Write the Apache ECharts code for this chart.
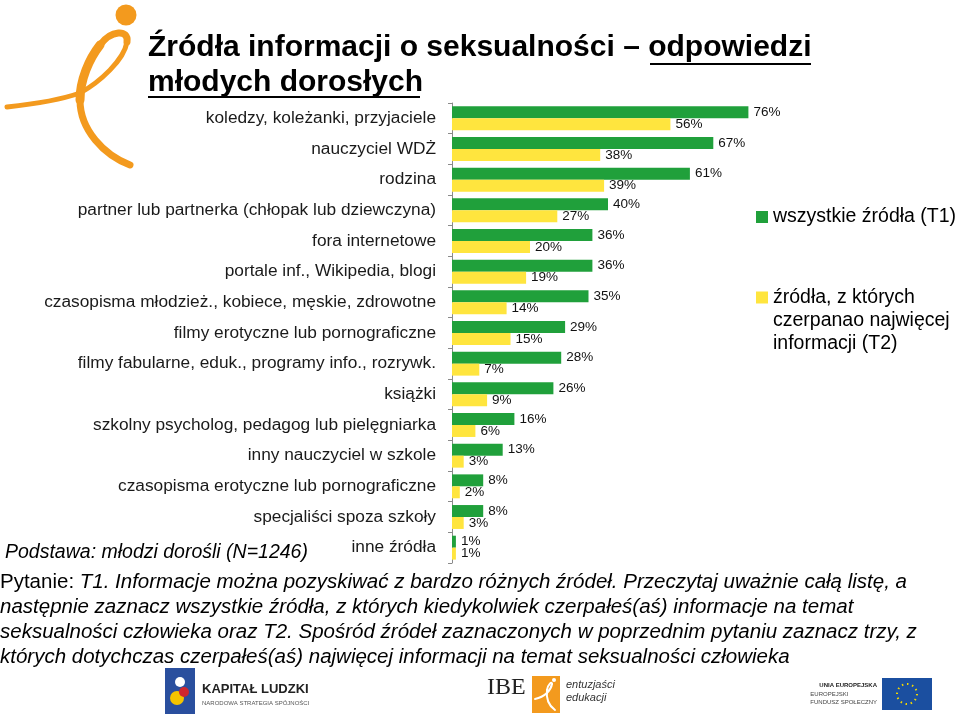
<!DOCTYPE html>
<html><head><meta charset="utf-8">
<script src="https://cdn.jsdelivr.net/npm/echarts@6/dist/echarts.min.js"></script>
<style>html,body{margin:0;padding:0;background:#fff}#c{width:960px;height:721px}</style>
</head><body><div id="c"></div>
<script>
const categories = [
  'koledzy, koleżanki, przyjaciele',
  'nauczyciel WDŻ',
  'rodzina',
  'partner lub partnerka (chłopak lub dziewczyna)',
  'fora internetowe',
  'portale inf., Wikipedia, blogi',
  'czasopisma młodzież., kobiece, męskie, zdrowotne',
  'filmy erotyczne lub pornograficzne',
  'filmy fabularne, eduk., programy info., rozrywk.',
  'książki',
  'szkolny psycholog, pedagog lub pielęgniarka',
  'inny nauczyciel w szkole',
  'czasopisma erotyczne lub pornograficzne',
  'specjaliści spoza szkoły',
  'inne źródła'
];
const seriesT1Name = 'wszystkie źródła (T1)';
const seriesT2Name = 'źródła, z których\nczerpanao najwięcej\ninformacji (T2)';
const valuesT1 = [76, 67, 61, 40, 36, 36, 35, 29, 28, 26, 16, 13, 8, 8, 1];
const valuesT2 = [56, 38, 39, 27, 20, 19, 14, 15, 7, 9, 6, 3, 2, 3, 1];

const GREEN = '#20A03B';
const YELLOW = '#FFE53E';
const ORANGE = '#F39A1E';
const FONT = 'Liberation Sans, Arial, sans-serif';

const chart = echarts.init(document.getElementById('c'), null, {renderer: 'canvas'});

const labelStyle = {show: true, position: 'right', distance: 5, formatter: '{c}%', color: '#111', fontSize: 13.5, fontFamily: FONT};

function bez(x1, y1, c1x, c1y, c2x, c2y, x2, y2, color, w) {
  return {type: 'bezierCurve', shape: {x1: x1, y1: y1, cpx1: c1x, cpy1: c1y, cpx2: c2x, cpy2: c2y, x2: x2, y2: y2},
    style: {fill: null, stroke: color, lineWidth: w, lineCap: 'round'}};
}

const option = {
  backgroundColor: '#fff',
  animation: false,
  title: [{
    text: 'Źródła informacji o seksualności – odpowiedzi\nmłodych dorosłych',
    left: 148, top: 30, padding: 0,
    textStyle: {fontFamily: FONT, fontSize: 30, fontWeight: 'bold', color: '#000', lineHeight: 35}
  }, {
    text: '{n|Pytanie: }{i|T1. Informacje można pozyskiwać z bardzo różnych źródeł. Przeczytaj uważnie całą listę, a}\n' +
          '{i|następnie zaznacz wszystkie źródła, z których kiedykolwiek czerpałeś(aś) informacje na temat}\n' +
          '{i|seksualności człowieka oraz T2. Spośród źródeł zaznaczonych w poprzednim pytaniu zaznacz trzy, z}\n' +
          '{i|których dotychczas czerpałeś(aś) najwięcej informacji na temat seksualności człowieka}',
    left: 0, top: 570, padding: 0,
    textStyle: {
      fontFamily: FONT, fontSize: 20.5, fontWeight: 'normal', color: '#000', lineHeight: 25,
      rich: {
        n: {fontFamily: FONT, fontSize: 20.5, fontWeight: 'normal', color: '#000', lineHeight: 25},
        i: {fontFamily: FONT, fontSize: 20.5, fontWeight: 'normal', fontStyle: 'italic', color: '#000', lineHeight: 25}
      }
    }
  }, {
    text: 'Podstawa: młodzi dorośli (N=1246)',
    left: 5, top: 543, padding: 0,
    textStyle: {fontFamily: FONT, fontSize: 19.5, fontStyle: 'italic', fontWeight: 'normal', color: '#000'}
  }],
  legend: [{
    data: [seriesT1Name],
    orient: 'vertical', left: 756, top: 207, padding: 0,
    itemWidth: 12, itemHeight: 12,
    icon: 'rect',
    textStyle: {fontFamily: FONT, fontSize: 19.5, color: '#000'}
  }, {
    data: [seriesT2Name],
    orient: 'vertical', left: 756, top: 240, padding: 0,
    itemWidth: 12, itemHeight: 12,
    icon: 'rect',
    formatter: function (name) { return '\n\n' + name; },
    textStyle: {fontFamily: FONT, fontSize: 19.5, color: '#000', lineHeight: 23}
  }],
  grid: {left: 452, top: 103, width: 390, height: 460, containLabel: false},
  xAxis: {type: 'value', min: 0, max: 100, show: false},
  yAxis: {
    type: 'category', data: categories, inverse: true,
    axisLine: {show: true, lineStyle: {color: '#8a8a8a', width: 1}},
    axisTick: {show: true, inside: false, length: 4, lineStyle: {color: '#8a8a8a'}},
    axisLabel: {fontFamily: FONT, fontSize: 17.3, color: '#1a1a1a', margin: 16}
  },
  series: [{
    name: seriesT1Name, type: 'bar', data: valuesT1,
    itemStyle: {color: GREEN}, barGap: '0%', barCategoryGap: '22%',
    label: labelStyle
  }, {
    name: seriesT2Name, type: 'bar', data: valuesT2,
    itemStyle: {color: YELLOW}, barGap: '0%', barCategoryGap: '22%',
    label: labelStyle
  }],
  graphic: [
    {type: 'line', shape: {x1: 650, y1: 64, x2: 811, y2: 64}, style: {stroke: '#000', lineWidth: 2}},
    {type: 'line', shape: {x1: 148, y1: 97, x2: 420, y2: 97}, style: {stroke: '#000', lineWidth: 2}},
    {type: 'circle', shape: {cx: 126, cy: 15, r: 10.5}, style: {fill: ORANGE}},
    bez(7, 107, 35, 104, 60, 100, 80, 93, ORANGE, 5),
    bez(80, 93, 100, 82, 124, 60, 127, 42, ORANGE, 5),
    bez(127, 42, 129, 29, 111, 30, 100, 45, ORANGE, 7),
    bez(100, 45, 89, 59, 80, 80, 80, 100, ORANGE, 9),
    bez(80, 100, 80, 130, 104, 155, 130, 165, ORANGE, 7),
    {type: 'rect', shape: {x: 165, y: 668, width: 30, height: 46}, style: {fill: '#2a4f9e'}},
    {type: 'circle', shape: {cx: 177, cy: 698, r: 7}, style: {fill: '#f5c400'}},
    {type: 'circle', shape: {cx: 184, cy: 692, r: 5}, style: {fill: '#d0262e'}},
    {type: 'circle', shape: {cx: 180, cy: 682, r: 5}, style: {fill: '#fff'}},
    {type: 'text', left: 202, top: 683, style: {text: 'KAPITAŁ LUDZKI', font: 'bold 13px ' + FONT, fill: '#222'}},
    {type: 'text', left: 202, top: 700, style: {text: 'NARODOWA STRATEGIA SPÓJNOŚCI', font: '6px ' + FONT, fill: '#555'}},
    {type: 'text', left: 487, top: 676, style: {text: 'IBE', font: '24px Liberation Serif, serif', fill: '#222'}},
    {type: 'rect', shape: {x: 532, y: 676, width: 28, height: 37}, style: {fill: ORANGE}},
    bez(535, 699, 545, 697, 551, 690, 552, 684, '#fff', 2),
    bez(552, 684, 552, 681, 548, 684, 547, 690, '#fff', 2),
    bez(547, 690, 546, 698, 548, 705, 555, 710, '#fff', 2),
    {type: 'circle', shape: {cx: 554, cy: 680, r: 2}, style: {fill: '#fff'}},
    {type: 'text', left: 566, top: 678, style: {text: 'entuzjaści\nedukacji', font: 'italic 11px ' + FONT, fill: '#333', lineHeight: 13}},
    {type: 'text', right: 83, top: 682, style: {text: 'UNIA EUROPEJSKA', font: 'bold 6px ' + FONT, fill: '#222', align: 'right'}},
    {type: 'text', right: 83, top: 690, style: {text: 'EUROPEJSKI\nFUNDUSZ SPOŁECZNY', font: '6px ' + FONT, fill: '#444', align: 'right', lineHeight: 8}},
    {type: 'rect', shape: {x: 882, y: 678, width: 50, height: 32}, style: {fill: '#1b4fa0'}},
    {type: 'circle', shape: {cx: 907, cy: 694, r: 10}, style: {fill: null, stroke: '#f5d800', lineWidth: 2, lineDash: [1.5, 3.7]}}
  ]
};
chart.setOption(option);
</script>
</body></html>
